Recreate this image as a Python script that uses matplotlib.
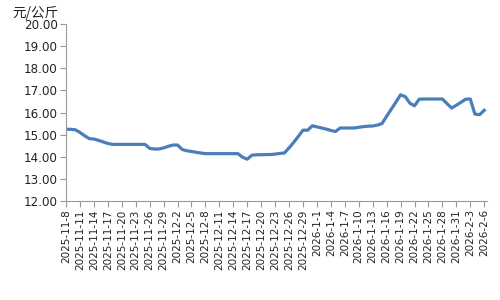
import matplotlib
matplotlib.use("Agg")
import matplotlib.pyplot as plt
import numpy as np
import datetime as dt

start = dt.date(2025, 11, 8)
prices = [
    15.24, 15.24, 15.22, 15.10, 14.95, 14.82, 14.80, 14.74, 14.67, 14.60,
    14.56, 14.56, 14.56, 14.56, 14.56, 14.56, 14.56, 14.56, 14.38, 14.35,
    14.35, 14.40, 14.47, 14.53, 14.53, 14.33, 14.27, 14.24, 14.20, 14.17,
    14.14, 14.14, 14.14, 14.14, 14.14, 14.14, 14.14, 14.14, 13.98, 13.89,
    14.07, 14.09, 14.09, 14.10, 14.10, 14.12, 14.15, 14.17, 14.40, 14.65,
    14.92, 15.20, 15.20, 15.40, 15.35, 15.30, 15.25, 15.19, 15.14, 15.30,
    15.30, 15.30, 15.30, 15.33, 15.36, 15.38, 15.39, 15.43, 15.50, 15.83,
    16.15, 16.47, 16.80, 16.72, 16.42, 16.30, 16.60, 16.61, 16.61, 16.61,
    16.61, 16.61, 16.40, 16.20, 16.33, 16.46, 16.60, 16.61, 15.93, 15.90,
    16.10,
]
dates = [start + dt.timedelta(days=i) for i in range(len(prices))]
labels = [f"{d.year}-{d.month}-{d.day}" for d in dates]
unit = "元/公斤"
yticks = [12, 13, 14, 15, 16, 17, 18, 19, 20]

fig = plt.figure(figsize=(5, 3), dpi=100)
ax = fig.add_axes([0.132, 0.33, 0.842, 0.59])
x = np.arange(len(prices))
ax.plot(x, prices, color="#4a7ebb", linewidth=2.3, solid_joinstyle="round")
ax.set_xlim(0, len(prices) - 1 + 0.6)
ax.set_ylim(12, 20)
ax.set_yticks(yticks)
ax.set_yticklabels([f"{v:.2f}" for v in yticks], fontsize=8.6, color="#222222")
ax.set_xticks(x[::3])
ax.set_xticklabels(labels[::3], rotation=90, fontsize=7.5, color="#222222")
for s in ["top", "right"]:
    ax.spines[s].set_visible(False)
for s in ["left", "bottom"]:
    ax.spines[s].set_color("#999999")
    ax.spines[s].set_linewidth(0.8)
ax.tick_params(axis="both", direction="out", length=4, color="#999999", width=0.8, pad=2)
fig.text(0.024, 0.955, unit, fontsize=9.8, color="#222222",
         family=["Noto Sans CJK SC", "DejaVu Sans"], va="center", ha="left")
fig.savefig("out.png", dpi=100)
